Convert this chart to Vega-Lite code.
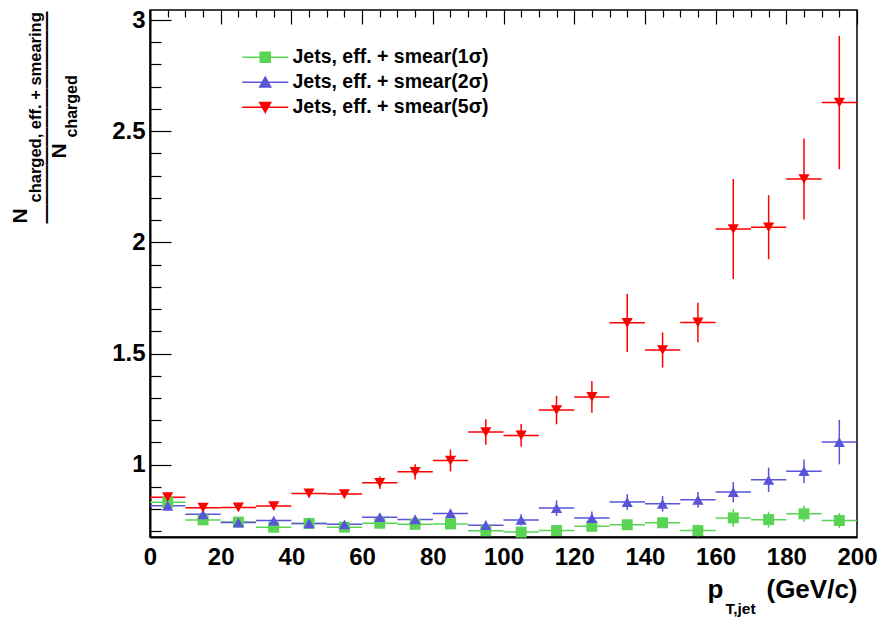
{
  "$schema": "https://vega.github.io/schema/vega-lite/v6.json",
  "autosize": "none",
  "padding": {"left": 150, "top": 10, "right": 26, "bottom": 88},
  "width": 707,
  "height": 527,
  "background": "white",
  "config": {
    "view": {"stroke": "black", "strokeWidth": 1.5},
    "axis": {"labelFont": "Liberation Sans", "labelFontWeight": "bold", "titleFont": "Liberation Sans", "titleFontWeight": "bold", "grid": false, "tickColor": "black", "domainColor": "black", "labelColor": "black", "titleColor": "black", "labelOverlap": false, "labelFlush": false},
    "legend": {"labelFont": "Liberation Sans", "labelFontWeight": "bold", "labelFontSize": 19.5, "labelColor": "black", "labelLimit": 400}
  },
  "data": {"values": [
    {"s": "1σ", "pt": 5, "lo": 0, "hi": 10, "r": 0.831, "e": 0.012},
    {"s": "1σ", "pt": 15, "lo": 10, "hi": 20, "r": 0.752, "e": 0.012},
    {"s": "1σ", "pt": 25, "lo": 20, "hi": 30, "r": 0.742, "e": 0.012},
    {"s": "1σ", "pt": 35, "lo": 30, "hi": 40, "r": 0.719, "e": 0.012},
    {"s": "1σ", "pt": 45, "lo": 40, "hi": 50, "r": 0.736, "e": 0.013},
    {"s": "1σ", "pt": 55, "lo": 50, "hi": 60, "r": 0.719, "e": 0.013},
    {"s": "1σ", "pt": 65, "lo": 60, "hi": 70, "r": 0.737, "e": 0.015},
    {"s": "1σ", "pt": 75, "lo": 70, "hi": 80, "r": 0.732, "e": 0.015},
    {"s": "1σ", "pt": 85, "lo": 80, "hi": 90, "r": 0.734, "e": 0.016},
    {"s": "1σ", "pt": 95, "lo": 90, "hi": 100, "r": 0.703, "e": 0.016},
    {"s": "1σ", "pt": 105, "lo": 100, "hi": 110, "r": 0.697, "e": 0.018},
    {"s": "1σ", "pt": 115, "lo": 110, "hi": 120, "r": 0.704, "e": 0.02},
    {"s": "1σ", "pt": 125, "lo": 120, "hi": 130, "r": 0.723, "e": 0.022},
    {"s": "1σ", "pt": 135, "lo": 130, "hi": 140, "r": 0.730, "e": 0.022},
    {"s": "1σ", "pt": 145, "lo": 140, "hi": 150, "r": 0.739, "e": 0.024},
    {"s": "1σ", "pt": 155, "lo": 150, "hi": 160, "r": 0.704, "e": 0.027},
    {"s": "1σ", "pt": 165, "lo": 160, "hi": 170, "r": 0.761, "e": 0.04},
    {"s": "1σ", "pt": 175, "lo": 170, "hi": 180, "r": 0.753, "e": 0.036},
    {"s": "1σ", "pt": 185, "lo": 180, "hi": 190, "r": 0.779, "e": 0.037},
    {"s": "1σ", "pt": 195, "lo": 190, "hi": 200, "r": 0.749, "e": 0.034},
    {"s": "2σ", "pt": 5, "lo": 0, "hi": 10, "r": 0.815, "e": 0.012},
    {"s": "2σ", "pt": 15, "lo": 10, "hi": 20, "r": 0.777, "e": 0.012},
    {"s": "2σ", "pt": 25, "lo": 20, "hi": 30, "r": 0.740, "e": 0.012},
    {"s": "2σ", "pt": 35, "lo": 30, "hi": 40, "r": 0.749, "e": 0.013},
    {"s": "2σ", "pt": 45, "lo": 40, "hi": 50, "r": 0.736, "e": 0.013},
    {"s": "2σ", "pt": 55, "lo": 50, "hi": 60, "r": 0.732, "e": 0.014},
    {"s": "2σ", "pt": 65, "lo": 60, "hi": 70, "r": 0.764, "e": 0.015},
    {"s": "2σ", "pt": 75, "lo": 70, "hi": 80, "r": 0.754, "e": 0.017},
    {"s": "2σ", "pt": 85, "lo": 80, "hi": 90, "r": 0.781, "e": 0.02},
    {"s": "2σ", "pt": 95, "lo": 90, "hi": 100, "r": 0.728, "e": 0.02},
    {"s": "2σ", "pt": 105, "lo": 100, "hi": 110, "r": 0.752, "e": 0.025},
    {"s": "2σ", "pt": 115, "lo": 110, "hi": 120, "r": 0.805, "e": 0.035},
    {"s": "2σ", "pt": 125, "lo": 120, "hi": 130, "r": 0.760, "e": 0.03},
    {"s": "2σ", "pt": 135, "lo": 130, "hi": 140, "r": 0.832, "e": 0.035},
    {"s": "2σ", "pt": 145, "lo": 140, "hi": 150, "r": 0.824, "e": 0.035},
    {"s": "2σ", "pt": 155, "lo": 150, "hi": 160, "r": 0.842, "e": 0.035},
    {"s": "2σ", "pt": 165, "lo": 160, "hi": 170, "r": 0.877, "e": 0.045},
    {"s": "2σ", "pt": 175, "lo": 170, "hi": 180, "r": 0.932, "e": 0.055},
    {"s": "2σ", "pt": 185, "lo": 180, "hi": 190, "r": 0.971, "e": 0.053},
    {"s": "2σ", "pt": 195, "lo": 190, "hi": 200, "r": 1.102, "e": 0.1},
    {"s": "5σ", "pt": 5, "lo": 0, "hi": 10, "r": 0.854, "e": 0.012},
    {"s": "5σ", "pt": 15, "lo": 10, "hi": 20, "r": 0.807, "e": 0.013},
    {"s": "5σ", "pt": 25, "lo": 20, "hi": 30, "r": 0.808, "e": 0.013},
    {"s": "5σ", "pt": 35, "lo": 30, "hi": 40, "r": 0.814, "e": 0.015},
    {"s": "5σ", "pt": 45, "lo": 40, "hi": 50, "r": 0.871, "e": 0.017},
    {"s": "5σ", "pt": 55, "lo": 50, "hi": 60, "r": 0.868, "e": 0.019},
    {"s": "5σ", "pt": 65, "lo": 60, "hi": 70, "r": 0.919, "e": 0.028},
    {"s": "5σ", "pt": 75, "lo": 70, "hi": 80, "r": 0.968, "e": 0.034},
    {"s": "5σ", "pt": 85, "lo": 80, "hi": 90, "r": 1.019, "e": 0.049},
    {"s": "5σ", "pt": 95, "lo": 90, "hi": 100, "r": 1.147, "e": 0.057},
    {"s": "5σ", "pt": 105, "lo": 100, "hi": 110, "r": 1.132, "e": 0.051},
    {"s": "5σ", "pt": 115, "lo": 110, "hi": 120, "r": 1.246, "e": 0.064},
    {"s": "5σ", "pt": 125, "lo": 120, "hi": 130, "r": 1.305, "e": 0.071},
    {"s": "5σ", "pt": 135, "lo": 130, "hi": 140, "r": 1.638, "e": 0.131},
    {"s": "5σ", "pt": 145, "lo": 140, "hi": 150, "r": 1.516, "e": 0.079},
    {"s": "5σ", "pt": 155, "lo": 150, "hi": 160, "r": 1.640, "e": 0.089},
    {"s": "5σ", "pt": 165, "lo": 160, "hi": 170, "r": 2.060, "e": 0.225},
    {"s": "5σ", "pt": 175, "lo": 170, "hi": 180, "r": 2.068, "e": 0.144},
    {"s": "5σ", "pt": 185, "lo": 180, "hi": 190, "r": 2.285, "e": 0.182},
    {"s": "5σ", "pt": 195, "lo": 190, "hi": 200, "r": 2.629, "e": 0.3}
  ]},
  "layer": [
    {
      "mark": {"type": "rule", "strokeWidth": 1.5},
      "encoding": {
        "x": {"field": "lo", "type": "quantitative", "scale": {"domain": [0, 200], "nice": false, "zero": false},
          "axis": {"orient": "bottom", "values": [0, 20, 40, 60, 80, 100, 120, 140, 160, 180, 200], "format": "d", "ticks": false, "labelFontSize": 24, "labelPadding": 8, "domainWidth": 2,
            "title": "p", "titleFontSize": 26, "titleX": 557, "titleY": 60, "titleAlign": "left", "titleBaseline": "alphabetic", "titleAngle": 0}},
        "x2": {"field": "hi"},
        "y": {"field": "r", "type": "quantitative", "scale": {"domain": [0.675, 3.045], "nice": false, "zero": false},
          "axis": {"orient": "left", "values": [1, 1.5, 2, 2.5, 3], "format": "~g", "ticks": false, "labelFontSize": 24, "labelPadding": 5, "domainWidth": 2,
            "title": "N", "titleFontSize": 21, "titleAngle": 270, "titleX": -124, "titleY": 213, "titleAlign": "left", "titleBaseline": "alphabetic"}},
        "color": {"field": "s", "type": "nominal", "scale": {"domain": ["1σ", "2σ", "5σ"], "range": ["#59d454", "#5954d8", "#ff0000"]},
          "legend": {"title": null, "orient": "none", "legendX": 105.5, "legendY": 37.5, "padding": 0, "symbolSize": 100, "labelOffset": 17.5, "rowPadding": 4, "symbolStrokeWidth": 1.5, "symbolOpacity": 1,
            "labelExpr": "'Jets, eff. + smear(' + datum.label + ')'",
            "encode": {"symbols": {"update": {
              "shape": {"signal": "datum.index === 0 ? 'M-4.6,0H4.6M-1,-1H1V1H-1Z' : datum.index === 1 ? 'M-4.6,0H4.6M0,-1.05L1.1,0.95H-1.1Z' : 'M-4.6,0H4.6M0,1.05L1.1,-0.95H-1.1Z'"},
              "fill": {"signal": "scale('color', datum.value)"},
              "stroke": {"signal": "scale('color', datum.value)"},
              "strokeWidth": {"value": 1.5},
              "opacity": {"value": 1}
            }}}}}
      }
    },
    {
      "mark": {"type": "errorbar", "thickness": 1.5},
      "encoding": {
        "x": {"field": "pt", "type": "quantitative", "scale": {"domain": [0, 200], "nice": false, "zero": false},
          "axis": {"orient": "bottom", "values": [0, 20, 40, 60, 80, 100, 120, 140, 160, 180, 200], "labels": false, "domain": false, "ticks": false,
            "grid": true, "gridColor": "black", "gridOpacity": 1, "gridWidth": 1.2, "gridDash": [14, 2000],
            "title": "T,jet", "titleFontSize": 15.5, "titleX": 575, "titleY": 76, "titleAlign": "left", "titleBaseline": "alphabetic", "titleAngle": 0}},
        "y": {"field": "r", "type": "quantitative", "scale": {"domain": [0.675, 3.045], "nice": false, "zero": false},
          "axis": {"orient": "left", "values": [1, 1.5, 2, 2.5, 3], "labels": false, "domain": false, "ticks": false,
            "grid": true, "gridColor": "black", "gridOpacity": 1, "gridWidth": 1.2, "gridDash": [21, 2000],
            "title": "charged, eff. + smearing", "titleFontSize": 16.5, "titleAngle": 270, "titleX": -110, "titleY": 192, "titleAlign": "left", "titleBaseline": "alphabetic"}},
        "yError": {"field": "e"},
        "color": {"field": "s", "type": "nominal", "scale": {"domain": ["1σ", "2σ", "5σ"], "range": ["#59d454", "#5954d8", "#ff0000"]}}
      }
    },
    {
      "transform": [{"filter": "datum.s === '1σ'"}],
      "mark": {"type": "point", "shape": "square", "filled": true, "size": 120, "opacity": 1},
      "encoding": {
        "x": {"field": "pt", "type": "quantitative", "scale": {"domain": [0, 200], "nice": false, "zero": false},
          "axis": {"orient": "bottom", "values": [5, 10, 15, 25, 30, 35, 45, 50, 55, 65, 70, 75, 85, 90, 95, 105, 110, 115, 125, 130, 135, 145, 150, 155, 165, 170, 175, 185, 190, 195], "labels": false, "domain": false, "ticks": false,
            "grid": true, "gridColor": "black", "gridOpacity": 1, "gridWidth": 1.2, "gridDash": [7, 2000],
            "title": "(GeV/c)", "titleFontSize": 26, "titleX": 707, "titleY": 60, "titleAlign": "right", "titleBaseline": "alphabetic", "titleAngle": 0}},
        "y": {"field": "r", "type": "quantitative", "scale": {"domain": [0.675, 3.045], "nice": false, "zero": false},
          "axis": {"orient": "left", "values": [0.7, 0.8, 0.9, 1.1, 1.2, 1.3, 1.4, 1.6, 1.7, 1.8, 1.9, 2.1, 2.2, 2.3, 2.4, 2.6, 2.7, 2.8, 2.9], "labels": false, "domain": false, "ticks": false,
            "grid": true, "gridColor": "black", "gridOpacity": 1, "gridWidth": 1.2, "gridDash": [11, 2000],
            "title": "———————————", "titleFontSize": 19.3, "titleAngle": 270, "titleX": -98.5, "titleY": 213, "titleAlign": "left", "titleBaseline": "alphabetic"}},
        "color": {"field": "s", "type": "nominal", "scale": {"domain": ["1σ", "2σ", "5σ"], "range": ["#59d454", "#5954d8", "#ff0000"]}}
      }
    },
    {
      "transform": [{"filter": "datum.s === '2σ'"}],
      "mark": {"type": "point", "shape": "triangle-up", "filled": true, "size": 125, "opacity": 1},
      "encoding": {
        "x": {"field": "pt", "type": "quantitative", "scale": {"domain": [0, 200], "nice": false, "zero": false}, "axis": null},
        "y": {"field": "r", "type": "quantitative", "scale": {"domain": [0.675, 3.045], "nice": false, "zero": false},
          "axis": {"orient": "left", "ticks": false, "labels": false, "domain": false,
            "title": "N", "titleFontSize": 21, "titleAngle": 270, "titleX": -85, "titleY": 148, "titleAlign": "left", "titleBaseline": "alphabetic"}},
        "color": {"field": "s", "type": "nominal", "scale": {"domain": ["1σ", "2σ", "5σ"], "range": ["#59d454", "#5954d8", "#ff0000"]}}
      }
    },
    {
      "transform": [{"filter": "datum.s === '5σ'"}],
      "mark": {"type": "point", "shape": "triangle-down", "filled": true, "size": 125, "opacity": 1},
      "encoding": {
        "x": {"field": "pt", "type": "quantitative", "scale": {"domain": [0, 200], "nice": false, "zero": false}, "axis": null},
        "y": {"field": "r", "type": "quantitative", "scale": {"domain": [0.675, 3.045], "nice": false, "zero": false},
          "axis": {"orient": "left", "ticks": false, "labels": false, "domain": false,
            "title": "charged", "titleFontSize": 16, "titleAngle": 270, "titleX": -74, "titleY": 127, "titleAlign": "left", "titleBaseline": "alphabetic"}},
        "color": {"field": "s", "type": "nominal", "scale": {"domain": ["1σ", "2σ", "5σ"], "range": ["#59d454", "#5954d8", "#ff0000"]}}
      }
    }
  ],
  "resolve": {"scale": {"x": "independent", "y": "independent"}, "axis": {"x": "independent", "y": "independent"}}
}
